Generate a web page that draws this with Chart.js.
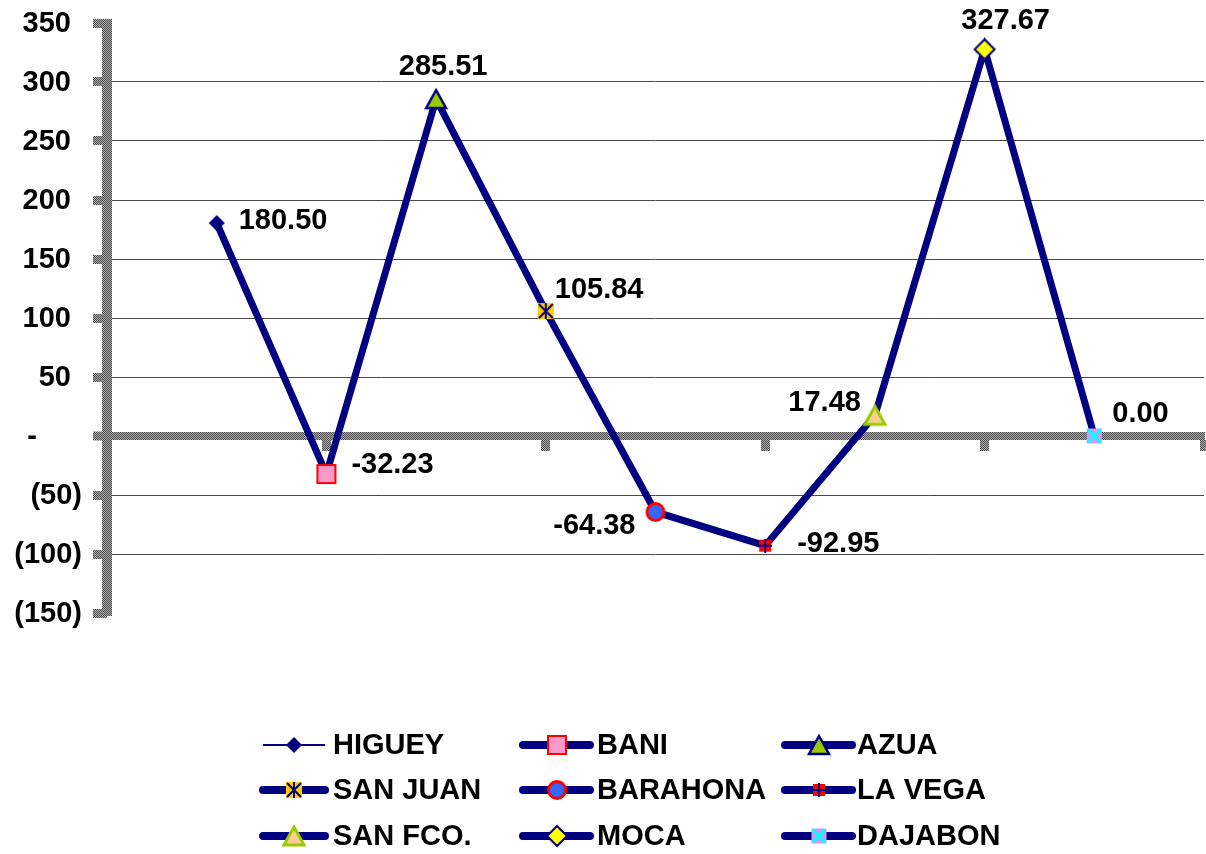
<!DOCTYPE html>
<html>
<head>
<meta charset="utf-8">
<script src="https://cdn.jsdelivr.net/npm/chart.js@4.4.1/dist/chart.umd.min.js"></script>
<style>
  body { margin: 0; background: #fff; }
  canvas { display: block; }
</style>
</head>
<body>
<canvas id="chart" width="1206" height="854"></canvas>
<script>
// data
const categories = ['HIGUEY', 'BANI', 'AZUA', 'SAN JUAN', 'BARAHONA', 'LA VEGA', 'SAN FCO.', 'MOCA', 'DAJABON'];
const values = [180.50, -32.23, 285.51, 105.84, -64.38, -92.95, 17.48, 327.67, 0.00];
const yMin = -150;
const yMax = 350;
const yStep = 50;

// where each value label sits relative to its point: dx, dy, align
const labelOffsets = [
  [22, -2, 'left'], [25, -9, 'left'], [7, -32, 'center'],
  [9, -21, 'left'], [-20, 14, 'right'], [32, -2, 'left'],
  [-14, -12, 'right'], [21, -28, 'center'], [18, -22, 'left']
];

const NAVY = '#000080';
const FONT = 'bold 29px "Liberation Sans", Arial, Helvetica, sans-serif';

function makeGray() {
  const cv = document.createElement('canvas');
  cv.width = 2; cv.height = 2;
  const g = cv.getContext('2d');
  g.fillStyle = '#ababab'; g.fillRect(0, 0, 2, 2);
  g.fillStyle = '#505050'; g.fillRect(0, 0, 1, 1); g.fillRect(1, 1, 1, 1);
  return document.getElementById('chart').getContext('2d').createPattern(cv, 'repeat');
}
const grayPat = makeGray();

function mk(size, draw) {
  const cv = document.createElement('canvas');
  cv.width = size; cv.height = size;
  draw(cv.getContext('2d'), size / 2);
  return cv;
}
function diamond(g, c, r) {
  g.beginPath();
  g.moveTo(c, c - r); g.lineTo(c + r, c); g.lineTo(c, c + r); g.lineTo(c - r, c);
  g.closePath();
}
function triangle(g, c, w, h) {
  g.beginPath();
  g.moveTo(c, c - h / 2); g.lineTo(c + w / 2, c + h / 2); g.lineTo(c - w / 2, c + h / 2);
  g.closePath();
}

const markers = [
  mk(20, (g, c) => { diamond(g, c, 8); g.fillStyle = NAVY; g.fill(); }),
  mk(22, (g, c) => {
    g.fillStyle = '#FF99CC'; g.fillRect(2, 2, 18, 18);
    g.strokeStyle = '#FF0000'; g.lineWidth = 2; g.strokeRect(2, 2, 18, 18);
  }),
  mk(26, (g, c) => {
    triangle(g, c, 20, 18); g.fillStyle = '#99CC00'; g.fill();
    g.strokeStyle = NAVY; g.lineWidth = 2.5; g.lineJoin = 'miter'; g.stroke();
  }),
  mk(18, (g, c) => {
    g.fillStyle = '#FFCC00'; g.fillRect(1, 1, 16, 16);
    g.strokeStyle = NAVY; g.lineWidth = 2;
    g.beginPath();
    g.moveTo(c, 1); g.lineTo(c, 17);
    g.moveTo(2, 2); g.lineTo(16, 16);
    g.moveTo(16, 2); g.lineTo(2, 16);
    g.stroke();
  }),
  mk(22, (g, c) => {
    g.beginPath(); g.arc(c, c, 8.5, 0, Math.PI * 2);
    g.fillStyle = '#3366FF'; g.fill();
    g.strokeStyle = '#FF0000'; g.lineWidth = 3; g.stroke();
  }),
  mk(14, (g, c) => {
    g.fillStyle = '#FF0000'; g.fillRect(1, 1, 12, 12);
    g.strokeStyle = NAVY; g.lineWidth = 2;
    g.beginPath(); g.moveTo(c, 0); g.lineTo(c, 14); g.moveTo(0, c); g.lineTo(14, c); g.stroke();
  }),
  mk(26, (g, c) => {
    triangle(g, c, 20, 18); g.fillStyle = '#FFCC99'; g.fill();
    g.strokeStyle = '#99CC00'; g.lineWidth = 3; g.stroke();
  }),
  mk(24, (g, c) => {
    diamond(g, c, 10); g.fillStyle = '#FFFF00'; g.fill();
    g.strokeStyle = NAVY; g.lineWidth = 2; g.stroke();
  }),
  mk(17, (g, c) => {
    g.fillStyle = '#CC99FF'; g.fillRect(1, 1, 15, 15);
    g.strokeStyle = '#00FFFF'; g.lineWidth = 3;
    g.beginPath(); g.moveTo(2, 2); g.lineTo(15, 15); g.moveTo(15, 2); g.lineTo(2, 15); g.stroke();
  })
];

// legend layout: column line start/end and text x, row centres
const legendCols = [[263, 325, 333], [523, 590, 597], [785, 852, 857]];
const legendRows = [745, 790, 836];

// thick grey value axis, drawn over the grid but under the line
const axisBar = {
  id: 'axisBar',
  beforeDatasetsDraw(chart) {
    const c = chart.ctx;
    const a = chart.chartArea;
    c.save();
    c.fillStyle = grayPat;
    c.fillRect(a.left - 5, a.top - 4, 10, a.bottom - a.top + 7);
    c.restore();
  }
};

const textPlugin = {
  id: 'textPlugin',
  afterDatasetsDraw(chart) {
    const c = chart.ctx;
    const meta = chart.getDatasetMeta(0);
    c.save();
    c.font = FONT;
    c.fillStyle = '#000';
    c.textBaseline = 'middle';

    meta.data.forEach((pt, i) => {
      const o = labelOffsets[i];
      c.textAlign = o[2];
      c.fillText(values[i].toFixed(2), pt.x + o[0], pt.y + o[1]);
    });

    const ys = chart.scales.y;
    c.textAlign = 'right';
    ys.ticks.forEach(t => {
      const y = ys.getPixelForValue(t.value) + 1;
      if (t.value > 0) c.fillText(String(t.value), 71, y);
      else if (t.value < 0) c.fillText('(' + (-t.value) + ')', 82, y);
      else c.fillText('-', 37, y);
    });

    // legend
    c.textAlign = 'left';
    categories.forEach((name, i) => {
      const col = legendCols[i % 3];
      const y = legendRows[Math.floor(i / 3)];
      c.strokeStyle = NAVY;
      if (i === 0) { c.lineWidth = 2; c.lineCap = 'butt'; }
      else { c.lineWidth = 8; c.lineCap = 'round'; }
      c.beginPath(); c.moveTo(col[0], y); c.lineTo(col[1], y); c.stroke();
      const m = markers[i];
      const mx = Math.round((col[0] + col[1]) / 2);
      c.drawImage(m, mx - m.width / 2, y - m.height / 2);
      c.fillText(name, col[2], y + 1);
    });
    c.restore();
  }
};

new Chart(document.getElementById('chart'), {
  type: 'line',
  data: {
    datasets: [{
      label: 'valores',
      data: values.map((v, i) => ({ x: i + 1, y: v })),
      borderColor: NAVY,
      borderWidth: 7,
      pointStyle: markers,
      pointRadius: 10,
      tension: 0,
      clip: false
    }]
  },
  options: {
    responsive: false,
    devicePixelRatio: 1,
    animation: false,
    layout: { autoPadding: false, padding: { top: 23, right: 2, bottom: 241, left: 0 } },
    plugins: { legend: { display: false }, tooltip: { enabled: false } },
    scales: {
      x: {
        type: 'linear',
        min: 0,
        max: 10,
        position: { y: 0 },
        ticks: { display: false, stepSize: 2 },
        grid: { drawOnChartArea: false, drawTicks: true, tickLength: 11, tickWidth: 9, tickColor: grayPat },
        border: { display: true, color: grayPat, width: 8 }
      },
      y: {
        min: yMin,
        max: yMax,
        ticks: { display: false, stepSize: yStep },
        afterFit: s => { s.width = 107; },
        grid: {
          color: ctx => {
            const v = ctx.tick.value;
            if (v === 0) return grayPat;
            if (v === yMax || v === yMin) return 'rgba(0,0,0,0)';
            return '#4a4a4a';
          },
          lineWidth: ctx => ctx.tick.value === 0 ? 8 : 1,
          tickColor: grayPat,
          tickWidth: 9,
          tickLength: 14
        },
        border: { display: false }
      }
    }
  },
  plugins: [axisBar, textPlugin]
});
</script>
</body>
</html>
